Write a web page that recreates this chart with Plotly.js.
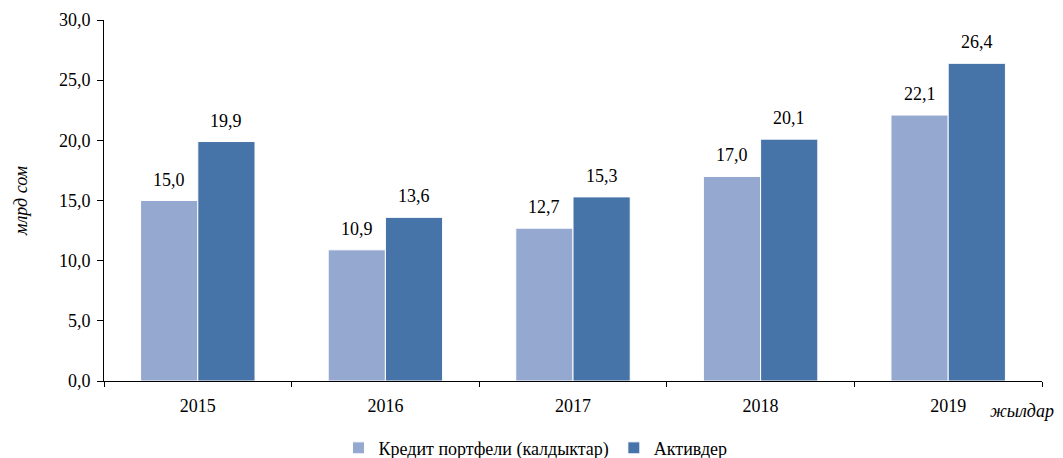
<!DOCTYPE html>
<html><head><meta charset="utf-8">
<script src="https://cdn.plot.ly/plotly-3.0.1.min.js"></script>
<style>body{margin:0;padding:0;background:#fff}#chart{width:1063px;height:458px}</style>
</head><body><div id="chart"></div>
<script>
const years = ['2015','2016','2017','2018','2019'];
const loanPortfolio = [15.0, 10.9, 12.7, 17.0, 22.1];
const assets = [19.9, 13.6, 15.3, 20.1, 26.4];
const seriesNames = ['Кредит портфели (калдыктар)', 'Активдер'];
const fmt = v => v.toFixed(1).replace('.', ',');
const font = {family: 'Liberation Serif, Times New Roman, serif', size: 18, color: '#000'};
const italic = Object.assign({}, font, {style: 'italic'});
const traces = [
  {type:'bar', x: years, y: loanPortfolio, name: seriesNames[0],
   marker:{color:'#95A9D0', line:{color:'#fff', width:1}}, hoverinfo:'none'},
  {type:'bar', x: years, y: assets, name: seriesNames[1],
   marker:{color:'#4673A8', line:{color:'#fff', width:1}}, hoverinfo:'none'}
];
// data labels positioned through the axes (category + offset of each group member)
const labelAnn = [];
[loanPortfolio, assets].forEach((arr, k) => {
  arr.forEach((v, i) => {
    labelAnn.push({x: i + (k === 0 ? -0.152 : 0.152), y: v, xref: 'x', yref: 'y', text: fmt(v),
      showarrow: false, yanchor: 'bottom', xanchor: 'center', yshift: 9, font: font});
  });
});
const layout = {
  width: 1063, height: 458,
  margin: {l: 104, r: 21, t: 20, b: 77, autoexpand: false},
  font: font,
  paper_bgcolor: '#fff', plot_bgcolor: '#fff',
  barmode: 'group', bargap: 0.39, bargroupgap: 0,
  showlegend: true,
  legend: {orientation: 'h', x: 0.46, xanchor: 'center', y: -0.186, yanchor: 'middle', font: font, traceorder:'normal'},
  xaxis: {type:'category', showline: true, linecolor: '#000', linewidth: 1, ticks: 'outside', tickson: 'boundaries', ticklen: 5, tickcolor:'#000', tickfont: font, showgrid: false, zeroline: false, ticklabelstandoff: 8},
  yaxis: {range: [0, 30], dtick: 5, tick0: 0, tickformat: '.1f', showline: true, linecolor: '#000', linewidth: 1, ticks: 'outside', ticklen: 6, tickcolor:'#000', tickfont: font, showgrid: false, zeroline: false, ticklabelstandoff: 3,
    title: {text: 'млрд сом', font: italic, standoff: 26}},
  separators: ', ',
  annotations: labelAnn.concat([{text: 'жылдар', xref: 'paper', yref: 'paper', x: 1.015, y: -0.05, xanchor: 'right', yanchor: 'top', showarrow: false, font: italic}])
};
Plotly.newPlot('chart', traces, layout, {displayModeBar: false, staticPlot: true});
</script></body></html>
